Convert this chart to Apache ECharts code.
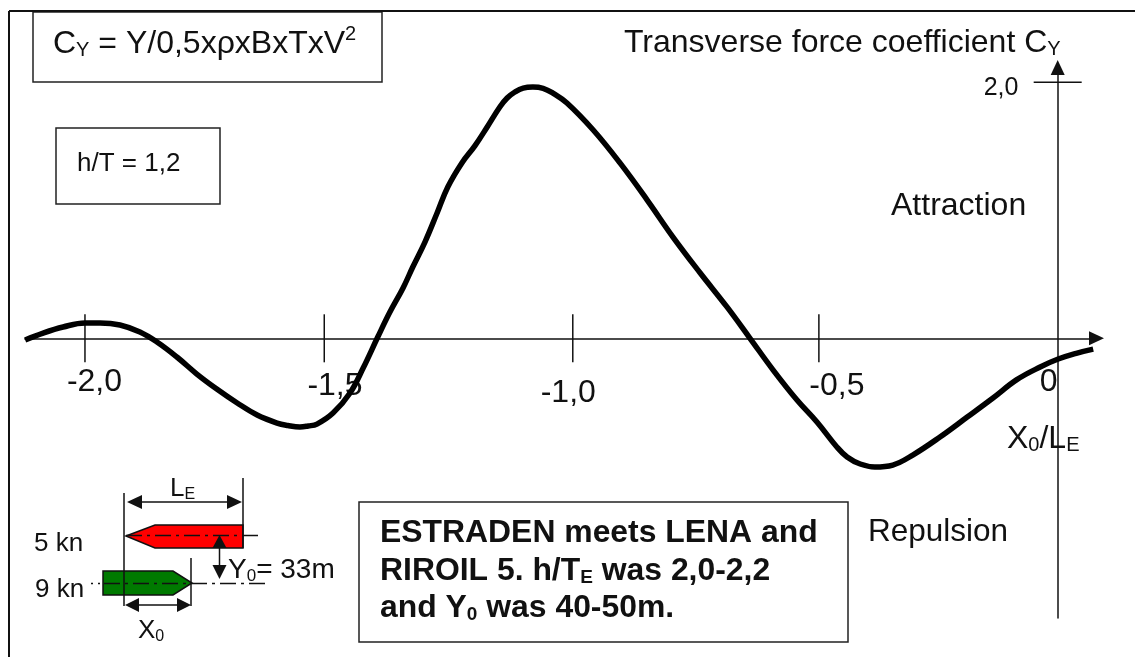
<!DOCTYPE html>
<html lang="en">
<head>
    <meta charset="UTF-8">
    <title>Transverse force coefficient</title>
    <script src="https://cdn.jsdelivr.net/npm/echarts@6/dist/echarts.min.js"></script>
    <style>
        html, body { margin: 0; padding: 0; background: #fff; }
        #charts { width: 1135px; height: 657px; }
    </style>
</head>
<body>
<div id="charts"></div>

<script>
    // X0/LE and CY
    var curveX = [-2.123, -2.086, -2.045, -2.000, -1.969, -1.928, -1.887, -1.852, -1.811, -1.770,
        -1.729, -1.687, -1.646, -1.605, -1.583, -1.558, -1.541, -1.523, -1.490, -1.455, -1.428, -1.398,
        -1.373, -1.346, -1.326, -1.301, -1.276, -1.254, -1.225, -1.198, -1.173, -1.147, -1.132,
        -1.116, -1.099, -1.079, -1.058, -1.038, -1.009, -0.955, -0.900, -0.844, -0.791, -0.735, -0.680,
        -0.633, -0.585, -0.536, -0.495, -0.454, -0.433, -0.406, -0.376, -0.339, -0.298,
        -0.242, -0.186, -0.133, -0.084, -0.036, 0.001, 0.040, 0.073];
    var curveY = [-0.013, 0.041, 0.088, 0.120, 0.120, 0.104, 0.049, -0.029, -0.146, -0.279,
        -0.396, -0.505, -0.599, -0.662, -0.681, -0.693, -0.685, -0.670, -0.584, -0.427, -0.232, 0.010,
        0.205, 0.393, 0.557, 0.752, 0.979, 1.182, 1.370, 1.505, 1.651, 1.807, 1.877,
        1.924, 1.955, 1.963, 1.953, 1.916, 1.838, 1.627, 1.370, 1.080, 0.791, 0.510, 0.245,
        0.002, -0.248, -0.482, -0.654, -0.849, -0.927, -0.982, -1.005, -0.990, -0.912,
        -0.771, -0.615, -0.466, -0.323, -0.224, -0.162, -0.115, -0.084];

    // the ticks are hand drawn in the original, so they sit a bit off the round values
    var xTickValues = [-2.0, -1.508, -0.997, -0.491, 0];
    var xTickLabels = ['-2,0', '-1,5', '-1,0', '-0,5', '0'];
    var xTickMarks = [true, true, true, true, false];
    var xLabelOffsets = [[9.5, 53], [10.7, 57], [-4.5, 64], [18, 57], [-9, 53]];
    var yTickValues = [2.0];
    var yTickLabels = ['2,0'];

    var FONT = '"Liberation Sans", Arial, sans-serif';
    var INK = '#111';
    var MID = 0.28; // baseline to text centre, in font sizes

    var measure = document.createElement('canvas').getContext('2d');

    function textEl(str, x, baseline, size, bold) {
        return {
            type: 'text',
            z: 5,
            style: {
                text: str,
                x: x,
                y: baseline - MID * size,
                fill: INK,
                font: (bold ? 'bold ' : '') + size + 'px ' + FONT,
                verticalAlign: 'middle',
                align: 'left'
            }
        };
    }

    // parts: [text, size, shift from the baseline]
    function runText(x, baseline, parts, bold) {
        var els = [];
        var cx = x;
        parts.forEach(function (p) {
            els.push(textEl(p[0], cx, baseline + (p[2] || 0), p[1], bold));
            measure.font = (bold ? 'bold ' : '') + p[1] + 'px ' + FONT;
            cx += measure.measureText(p[0]).width;
        });
        return els;
    }

    function box(x, y, w, h) {
        return {
            type: 'rect', z: 1,
            shape: {x: x, y: y, width: w, height: h},
            style: {fill: 'none', stroke: '#222', lineWidth: 1.5}
        };
    }

    function seg(x1, y1, x2, y2, dash, width) {
        return {
            type: 'line', z: 3,
            shape: {x1: x1, y1: y1, x2: x2, y2: y2},
            style: {stroke: INK, lineWidth: width || 1.5, lineDash: dash || null}
        };
    }

    function poly(points, fill, stroke) {
        return {
            type: 'polygon', z: stroke ? 2 : 4,
            shape: {points: points},
            style: {fill: fill, stroke: stroke || null, lineWidth: 1.5}
        };
    }

    var dashDot = [16, 5, 3, 5];

    var graphics = [
        // frame
        seg(9, 11, 1135, 11, null, 2),
        seg(9, 11, 9, 657, null, 2),
        box(33, 12, 349, 70),
        box(56, 128, 164, 76),
        box(359, 502, 489, 140),

        // ships
        poly([[126, 536], [155, 525], [243, 525], [243, 548], [155, 548]], '#ff0000', INK),
        poly([[103, 571], [173, 571], [192, 583], [173, 595], [103, 595]], '#007a00', INK),
        seg(126, 535.5, 262, 535.5, dashDot),
        seg(91, 583.5, 93, 583.5),
        seg(98, 583.5, 100, 583.5),
        seg(104, 583.5, 266, 583.5, dashDot),
        seg(124, 493, 124, 606),
        seg(243, 478, 243, 548),
        seg(191, 558, 191, 606),

        // LE arrow
        seg(135, 502, 235, 502),
        poly([[127, 502], [142, 495], [142, 509]], INK),
        poly([[242, 502], [227, 495], [227, 509]], INK),
        // X0 arrow
        seg(132, 605, 184, 605),
        poly([[125, 605], [139, 598], [139, 612]], INK),
        poly([[191, 605], [177, 598], [177, 612]], INK),
        // Y0 arrow
        seg(219.5, 545, 219.5, 568),
        poly([[219.5, 535], [212.5, 548], [226.5, 548]], INK),
        poly([[219.5, 579], [212.5, 565], [226.5, 565]], INK)
    ];

    graphics = graphics.concat(
        runText(53, 53, [['C', 32], ['Y', 20, 3], [' = Y/0,5xρxBxTxV', 32], ['2', 20, -13]]),
        runText(624, 52, [['Transverse force coefficient C', 32], ['Y', 20, 3]]),
        runText(77, 171, [['h/T = 1,2', 26]]),
        runText(891, 215, [['Attraction', 32]]),
        runText(868, 541, [['Repulsion', 31.5]]),
        runText(1007, 448, [['X', 32], ['0', 20, 3], ['/L', 32], ['E', 20, 3]]),
        runText(170, 496, [['L', 26], ['E', 16, 3]]),
        runText(138, 638, [['X', 26], ['0', 16, 3]]),
        runText(34, 551, [['5 kn', 26]]),
        runText(35, 597, [['9 kn', 26]]),
        runText(228, 578, [['Y', 28], ['0', 17, 3], ['= 33m', 28]]),
        runText(380, 542, [['ESTRADEN meets LENA and', 31.9]], true),
        runText(380, 580, [['RIROIL 5. h/T', 31.9], ['E', 19, 3], [' was 2,0-2,2', 31.9]], true),
        runText(380, 617, [['and Y', 31.9], ['0', 19, 3], [' was 40-50m.', 31.9]], true)
    );

    function curveData() {
        var rows = [];
        for (var i = 0; i < curveX.length; i++) {
            rows.push([curveX[i], curveY[i]]);
        }
        return rows;
    }

    function xTickItem(params, api) {
        var p = api.coord([api.value(0), 0]);
        var i = params.dataIndex;
        var off = xLabelOffsets[i];
        var children = [{
            type: 'text',
            style: {
                text: xTickLabels[i],
                x: p[0] + off[0],
                y: p[1] + off[1] - MID * 32,
                fill: INK,
                font: '32px ' + FONT,
                verticalAlign: 'middle',
                align: 'center'
            }
        }];
        if (xTickMarks[i]) {
            children.push({
                type: 'line',
                shape: {x1: p[0], y1: p[1] - 24, x2: p[0], y2: p[1] + 24},
                style: {stroke: INK, lineWidth: 1.5}
            });
        }
        return {type: 'group', children: children};
    }

    function yTickItem(params, api) {
        var p = api.coord([0, api.value(1)]);
        return {
            type: 'group',
            children: [{
                type: 'line',
                shape: {x1: p[0] - 24, y1: p[1], x2: p[0] + 24, y2: p[1]},
                style: {stroke: INK, lineWidth: 1.5}
            }, {
                type: 'text',
                style: {
                    text: yTickLabels[params.dataIndex],
                    x: p[0] - 74,
                    y: p[1] + 13 - MID * 25,
                    fill: INK,
                    font: '25px ' + FONT,
                    verticalAlign: 'middle',
                    align: 'left'
                }
            }]
        };
    }

    var myChart = echarts.init(document.getElementById('charts'), null, {renderer: 'canvas'});

    var axisLine = {
        onZero: true,
        symbol: ['none', 'triangle'],
        symbolSize: [14, 15],
        lineStyle: {color: INK, width: 1.5}
    };

    var option = {
        animation: false,
        backgroundColor: '#fff',
        grid: {left: 25, top: 67.5, width: 1071.5, height: 550.5},
        xAxis: {
            type: 'value',
            min: -2.1233,
            max: 0.0798,
            axisLine: axisLine,
            axisTick: {show: false},
            axisLabel: {show: false},
            splitLine: {show: false}
        },
        yAxis: {
            type: 'value',
            min: -2.185,
            max: 2.1156,
            axisLine: axisLine,
            axisTick: {show: false},
            axisLabel: {show: false},
            splitLine: {show: false}
        },
        graphic: graphics,
        series: [
            {
                type: 'custom',
                clip: false,
                z: 3,
                renderItem: xTickItem,
                data: xTickValues.map(function (v) { return [v, 0]; })
            },
            {
                type: 'custom',
                clip: false,
                z: 3,
                renderItem: yTickItem,
                data: yTickValues.map(function (v) { return [0, v]; })
            },
            {
                type: 'line',
                z: 6,
                data: curveData(),
                smooth: 0.4,
                symbol: 'none',
                lineStyle: {color: '#000', width: 5.5}
            }
        ]
    };

    myChart.setOption(option);
</script>
</body>
</html>
